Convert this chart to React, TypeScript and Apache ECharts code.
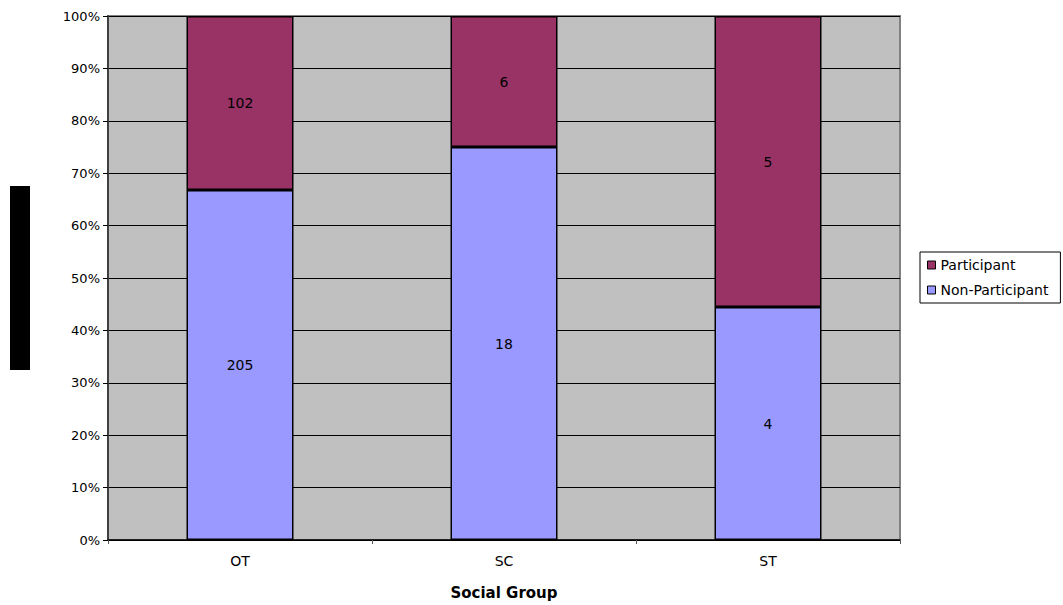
import React, { useEffect, useRef } from "react";
import * as echarts from "echarts";

const categories = ["OT", "SC", "ST"];
const participantCounts = [102, 6, 5];
const nonParticipantCounts = [205, 18, 4];
const yTicks = [0, 10, 20, 30, 40, 50, 60, 70, 80, 90, 100];

const FONT = "'DejaVu Sans', Arial, sans-serif";

export default function App() {
  const ref = useRef<HTMLDivElement>(null);

  useEffect(() => {
    if (!ref.current) return;
    const chart = echarts.init(ref.current, undefined, { renderer: "svg" });

    // Each column is normalised to 100% of its social group's total.
    const totals = categories.map((_, i) => participantCounts[i] + nonParticipantCounts[i]);
    const nonPct = nonParticipantCounts.map((v, i) => (v / totals[i]) * 100);
    const partPct = participantCounts.map((v, i) => (v / totals[i]) * 100);

    const labelStyle = {
      show: true,
      position: "inside" as const,
      color: "#000",
      fontFamily: FONT,
      fontSize: 14,
    };

    chart.setOption({
      animation: false,
      backgroundColor: "#fff",
      textStyle: { fontFamily: FONT },
      grid: {
        left: 108,
        right: 163,
        top: 16,
        bottom: 65,
        outerBoundsMode: "none",
        containLabel: false,
        show: true,
        backgroundColor: "#C0C0C0",
        borderColor: "#808080",
        borderWidth: 2,
      },
      legend: {
        orient: "vertical",
        left: 920,
        top: 252,
        data: ["Participant", "Non-Participant"],
        icon: "rect",
        itemWidth: 8,
        itemHeight: 8,
        itemGap: 11,
        padding: [6, 12, 6, 7],
        borderColor: "#000",
        borderWidth: 1,
        borderRadius: 0,
        textStyle: { fontFamily: FONT, fontSize: 14, color: "#000" },
        itemStyle: { borderColor: "#000", borderWidth: 1 },
      },
      xAxis: {
        type: "category",
        data: categories,
        name: "Social Group",
        nameLocation: "middle",
        nameGap: 45,
        nameTextStyle: { fontFamily: FONT, fontSize: 15, fontWeight: "bold", color: "#000" },
        axisLine: { lineStyle: { color: "#000", width: 1.5 } },
        axisTick: { show: true, length: 4, lineStyle: { color: "#555" } },
        axisLabel: { fontFamily: FONT, fontSize: 14, color: "#000", margin: 14 },
      },
      yAxis: {
        type: "value",
        min: 0,
        max: 100,
        interval: 10,
        axisLine: { show: true, lineStyle: { color: "#404040", width: 2 } },
        axisTick: { show: true, length: 5, lineStyle: { color: "#000" } },
        axisLabel: {
          fontFamily: FONT,
          fontSize: 13,
          color: "#000",
          margin: 8,
          formatter: (v: number) => (yTicks.includes(v) ? `${v}%` : ""),
        },
        splitLine: { show: true, lineStyle: { color: "#000", width: 1 } },
      },
      series: [
        {
          name: "Non-Participant",
          type: "bar",
          stack: "total",
          barWidth: 107,
          data: nonPct,
          itemStyle: { color: "#9999FF", borderColor: "#000", borderWidth: 1.5 },
          label: { ...labelStyle, formatter: (p: any) => String(nonParticipantCounts[p.dataIndex]) },
        },
        {
          name: "Participant",
          type: "bar",
          stack: "total",
          barWidth: 107,
          data: partPct,
          itemStyle: { color: "#993366", borderColor: "#000", borderWidth: 1.5 },
          label: { ...labelStyle, formatter: (p: any) => String(participantCounts[p.dataIndex]) },
        },
      ],
      graphic: [
        {
          type: "rect",
          left: 10,
          top: 186,
          shape: { width: 20, height: 184 },
          style: { fill: "#000" },
        },
      ],
    });

    return () => chart.dispose();
  }, []);

  return (
    <div
      ref={ref}
      style={{ position: "fixed", left: 0, top: 0, width: 1063, height: 605 }}
    />
  );
}
